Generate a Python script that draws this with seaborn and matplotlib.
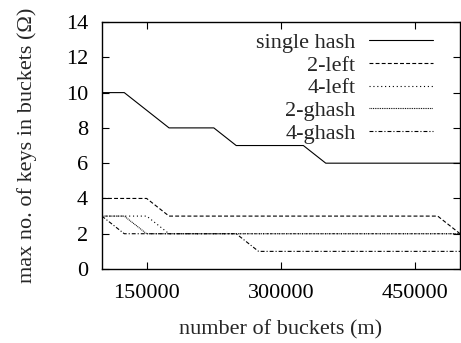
import matplotlib
matplotlib.use("Agg")
import matplotlib.pyplot as plt
import seaborn as sns
import pandas as pd

buckets = [100000, 125000, 150000, 175000, 200000, 225000, 250000, 275000, 300000,
           325000, 350000, 375000, 400000, 425000, 450000, 475000, 500000]
single_hash = [10, 10, 9, 8, 8, 8, 7, 7, 7, 7, 6, 6, 6, 6, 6, 6, 6]
two_left = [4, 4, 4, 3, 3, 3, 3, 3, 3, 3, 3, 3, 3, 3, 3, 3, 2]
four_left = [3, 3, 3, 2, 2, 2, 2, 2, 2, 2, 2, 2, 2, 2, 2, 2, 2]
two_ghash = [3, 3, 2, 2, 2, 2, 2, 2, 2, 2, 2, 2, 2, 2, 2, 2, 2]
four_ghash = [3, 2, 2, 2, 2, 2, 2, 1, 1, 1, 1, 1, 1, 1, 1, 1, 1]
series_names = ["single hash", "2-left", "4-left", "2-ghash", "4-ghash"]
x_ticks = [150000, 300000, 450000]
y_ticks = [0, 2, 4, 6, 8, 10, 12, 14]

rows = []
for name, vals in zip(series_names, [single_hash, two_left, four_left, two_ghash, four_ghash]):
    for b, v in zip(buckets, vals):
        rows.append({"m": b, "val": v, "series": name})
df = pd.DataFrame(rows)

sns.set_style("ticks")
plt.rcParams["font.family"] = ["Liberation Serif", "DejaVu Serif"]

fig = plt.figure(figsize=(4.61, 3.43), dpi=100)
ax = fig.add_axes([0.221, 0.2157, 0.777, 0.72])

dashes = {
    "single hash": "",
    "2-left": (3.5, 2),
    "4-left": (1, 2.5),
    "2-ghash": (0.8, 0.8),
    "4-ghash": (3.5, 1.8, 1, 1.8),
}
palette = {n: "black" for n in series_names}
sns.lineplot(data=df, x="m", y="val", hue="series", style="series",
             hue_order=series_names, style_order=series_names,
             palette=palette, dashes=dashes, linewidth=0.8, ax=ax, legend=True)

FS = 16
ax.set_xlim(100000, 500000)
ax.set_ylim(0, 14)
ax.set_xticks(x_ticks)
ax.set_xticklabels([str(t) for t in x_ticks])
ax.set_yticks(y_ticks)
ax.set_yticklabels([str(t) for t in y_ticks])
ax.tick_params(direction="in", length=5, width=0.8, top=True, right=True,
               labelsize=FS, colors="black")
ax.tick_params(axis="x", pad=11)
ax.tick_params(axis="y", pad=10)
for s in ax.spines.values():
    s.set_visible(True)
    s.set_linewidth(1.0)
    s.set_color("black")
ax.set_xlabel("number of buckets (m)", fontsize=FS)
ax.set_ylabel("max no. of keys in buckets (Ω)", fontsize=FS)
ax.xaxis.set_label_coords(0.5, -0.245, transform=ax.transAxes)
ax.yaxis.set_label_coords(-0.21, 0.5, transform=ax.transAxes)
ax.xaxis.label.set_va("center")
ax.yaxis.label.set_va("center")

handles, labels = ax.get_legend_handles_labels()
leg = ax.legend(handles, labels, loc="upper right", frameon=False, markerfirst=False,
                fontsize=FS, handlelength=2.9, labelspacing=0.1,
                handletextpad=0.6, borderaxespad=0.0, bbox_to_anchor=(0.95, 0.995))

fig.savefig("out.png", dpi=100)
